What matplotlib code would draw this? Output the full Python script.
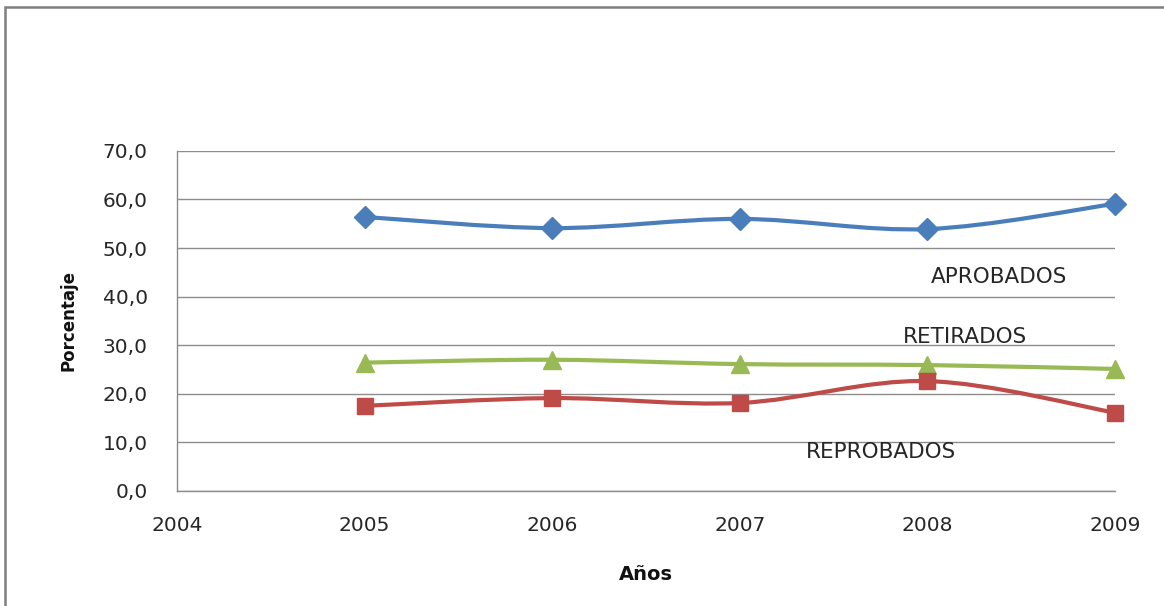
import numpy as np
import matplotlib.pyplot as plt
from matplotlib.path import Path
from matplotlib.patches import PathPatch, Rectangle

# Datos del grafico (porcentaje por año)
anios = [2005, 2006, 2007, 2008, 2009]
aprobados = [56.4, 54.1, 56.0, 53.9, 59.1]
retirados = [26.4, 27.0, 26.1, 25.9, 25.1]
reprobados = [17.5, 19.1, 18.1, 22.6, 16.1]

series = [
    ("APROBADOS", aprobados, "#4A7EBB", "D", 11.5),
    ("RETIRADOS", retirados, "#98B954", "^", 13),
    ("REPROBADOS", reprobados, "#BE4B48", "s", 12),
]
etiquetas = [
    ("APROBADOS", 2008.02, 44.1),
    ("RETIRADOS", 2007.87, 31.7),
    ("REPROBADOS", 2007.35, 8.0),
]

plt.rcParams["font.family"] = ["DejaVu Sans"]


def curva_suave(x, y):
    """Trazo suavizado tipo Excel (Bezier con tangentes Catmull-Rom)."""
    p = np.column_stack([x, y]).astype(float)
    verts = [p[0]]
    codes = [Path.MOVETO]
    n = len(p)
    for i in range(n - 1):
        p0 = p[i - 1] if i > 0 else p[i]
        p3 = p[i + 2] if i + 2 < n else p[i + 1]
        c1 = p[i] + (p[i + 1] - p0) / 6
        c2 = p[i + 1] - (p3 - p[i]) / 6
        verts += [c1, c2, p[i + 1]]
        codes += [Path.CURVE4] * 3
    return Path(verts, codes)


fig = plt.figure(figsize=(11.64, 6.06), dpi=100)
ax = fig.add_axes([0.152, 0.19, 0.806, 0.561])

# marco exterior del grafico
fig.patches.append(Rectangle((0.004, -0.02), 1.2, 1.008, transform=fig.transFigure,
                             fill=False, edgecolor="#7f7f7f", linewidth=1.8))

for nombre, vals, color, marca, tam in series:
    ax.add_patch(PathPatch(curva_suave(anios, vals), fill=False, edgecolor=color,
                           linewidth=3.0, capstyle="round", joinstyle="round", zorder=3))
    ax.plot(anios, vals, linestyle="none", marker=marca, markersize=tam,
            color=color, markeredgecolor=color, zorder=4, clip_on=False)

for texto, x, y in etiquetas:
    ax.text(x, y, texto, fontsize=15.5, color="#262626", va="center", ha="left")

ax.set_xlim(2004, 2009)
ax.set_ylim(0, 70)
ax.set_xticks(range(2004, 2010))
ax.set_yticks(range(0, 71, 10))
ax.set_yticklabels([f"{v},0" for v in range(0, 71, 10)])
ax.tick_params(length=0, labelsize=14.5, colors="#262626")
ax.tick_params(axis="x", pad=18)
ax.tick_params(axis="y", pad=21)
ax.grid(axis="y", color="#8c8c8c", linewidth=1)
ax.set_axisbelow(True)
for lado in ["top", "right"]:
    ax.spines[lado].set_visible(False)
for lado in ["left", "bottom"]:
    ax.spines[lado].set_color("#8c8c8c")
    ax.spines[lado].set_linewidth(1)

ax.set_xlabel("Años", fontsize=14, fontweight="bold", labelpad=22, color="#111111")
ax.set_ylabel("Porcentaje", fontsize=12, fontweight="bold", labelpad=18, color="#111111")

fig.savefig("out.png", dpi=100, facecolor="white")
